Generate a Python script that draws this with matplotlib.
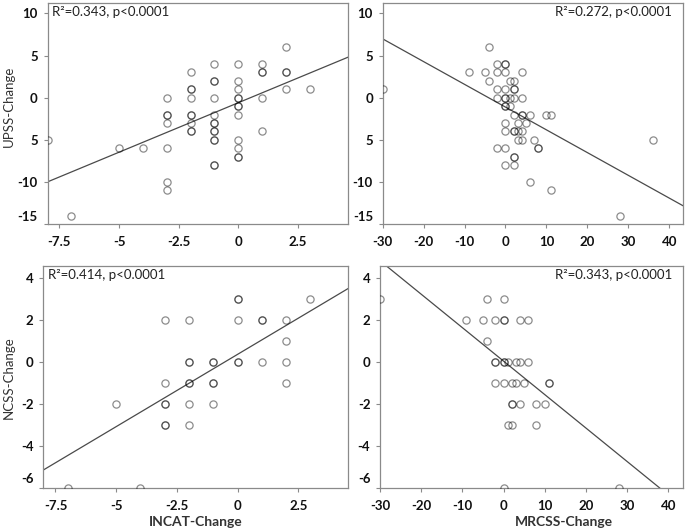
import matplotlib
matplotlib.use("Agg")
import matplotlib.pyplot as plt
import matplotlib.transforms as mtransforms
import numpy as np

plt.rcParams['font.family'] = ['Lato', 'DejaVu Sans']

# ---------------- data ----------------
# Top-left: INCAT change vs UPSS change
incat_upss_x = [-8, -7, -5, -4,
                -3, -3, -3, -3, -3, -3, -3,
                -2, -2, -2, -2, -2, -2, -2, -2, -2,
                -1, -1, -1, -1, -1, -1, -1, -1, -1, -1, -1, -1, -1,
                0, 0, 0, 0, 0, 0, 0, 0, 0, 0, 0, 0,
                1, 1, 1, 1, 1,
                2, 2, 2, 2,
                3]
incat_upss_y = [-5, -14, -6, -6,
                0, -2, -2, -3, -6, -10, -11,
                3, 1, 1, 0, -2, -2, -3, -4, -4,
                4, 2, 2, 0, -2, -3, -3, -4, -4, -5, -5, -8, -8,
                4, 2, 1, 0, 0, -1, -1, -2, -5, -6, -7, -7,
                4, 3, 3, 0, -4,
                6, 3, 3, 1,
                1]

# Top-right: MRCSS change vs UPSS change
mrcss_upss_x = [-30, -9, -5, -4, -4, -2, -2, 0, 0, 0, 1, 2, 4,
                -2, 0, 2, 2,
                -2, 0, 0, 1, 2, 4,
                0, 0, 1,
                2, 4, 4, 6, 10, 11,
                0, 3, 5,
                0, 2, 2, 3, 4,
                3, 4, 7, 36,
                -2, 0, 8, 8,
                2, 2,
                0, 2,
                6, 11, 28]
mrcss_upss_y = [1, 3, 3, 6, 2, 4, 3, 4, 4, 3, 2, 2, 3,
                1, 1, 1, 1,
                0, 0, 0, 0, 0, 0,
                -1, -1, -1,
                -2, -2, -2, -2, -2, -2,
                -3, -3, -3,
                -4, -4, -4, -4, -4,
                -5, -5, -5, -5,
                -6, -6, -6, -6,
                -7, -7,
                -8, -8,
                -10, -11, -14]

# Bottom-left: INCAT change vs NCSS change
incat_ncss_x = [-7, -4, -5,
                -3, -3, -3, -3, -3, -3,
                -2, -2, -2, -2, -2, -2, -2,
                -1, -1, -1, -1, -1,
                0, 0, 0, 0, 0,
                1, 1, 1,
                2, 2, 2, 2,
                3]
incat_ncss_y = [-6, -6, -2,
                2, -1, -2, -2, -3, -3,
                2, 0, 0, -1, -1, -2, -3,
                0, 0, -1, -1, -2,
                3, 3, 2, 0, 0,
                2, 2, 0,
                2, 1, 0, -1,
                3]

# Bottom-right: MRCSS change vs NCSS change
mrcss_ncss_x = [-30, -4, 0,
                -9, -5, -2, 0, 0, 4, 6,
                -4,
                -2, -2, 0, 0, 1, 3, 4, 6,
                -2, 0, 2, 3, 5, 11, 11,
                2, 2, 4, 8, 10,
                1, 2, 8,
                0, 28]
mrcss_ncss_y = [3, 3, 3,
                2, 2, 2, 2, 2, 2, 2,
                1,
                0, 0, 0, 0, 0, 0, 0, 0,
                -1, -1, -1, -1, -1, -1, -1,
                -2, -2, -2, -2, -2,
                -3, -3, -3,
                -6, -6]

# regression fits (slope, intercept) and R² text
fit_slopes = [1.175, -0.27, 0.687, -0.159]
fit_intercepts = [-0.6, -1.12, 0.35, 0.03]
r2_texts = ["R\u00b2=0.343, p<0.0001", "R\u00b2=0.272, p<0.0001",
            "R\u00b2=0.414, p<0.0001", "R\u00b2=0.343, p<0.0001"]

upss_ticks = [-15, -10, -5, 0, 5, 10]
upss_ticklabels = ["-15", "-10", "5", "0", "5", "10"]
ncss_ticks = [-6, -4, -2, 0, 2, 4]
ncss_ticklabels = ["-6", "-4", "-2", "0", "2", "4"]
incat_ticks = [-7.5, -5, -2.5, 0, 2.5]
incat_ticklabels = ["-7.5", "-5", "-2.5", "0", "2.5"]
mrcss_ticks = [-30, -20, -10, 0, 10, 20, 30, 40]
mrcss_ticklabels = ["-30", "-20", "-10", "0", "10", "20", "30", "40"]

# ---------------- figure ----------------
W, H = 685, 530
fig = plt.figure(figsize=(W / 100, H / 100), dpi=100)


def px_axes(x0, y0, x1, y1):
    return fig.add_axes([x0 / W, 1 - y1 / H, (x1 - x0) / W, (y1 - y0) / H])


spine_col = '#8a8a8a'

panels = [
    dict(box=(47.5, 2.5, 348, 224), x=incat_upss_x, y=incat_upss_y,
         xlim=(-8, 4.6), ylim=(-15, 11.3), xt=incat_ticks, xtl=incat_ticklabels,
         yt=upss_ticks, ytl=upss_ticklabels, text_left=True, yoff=8),
    dict(box=(382.7, 2.5, 682.7, 224), x=mrcss_upss_x, y=mrcss_upss_y,
         xlim=(-30, 43.3), ylim=(-15, 11.3), xt=mrcss_ticks, xtl=mrcss_ticklabels,
         yt=upss_ticks, ytl=upss_ticklabels, text_left=False, yoff=8),
    dict(box=(43.3, 266, 348, 488), x=incat_ncss_x, y=incat_ncss_y,
         xlim=(-8, 4.55), ylim=(-6, 4.55), xt=incat_ticks, xtl=incat_ticklabels,
         yt=ncss_ticks, ytl=ncss_ticklabels, text_left=True, yoff=10),
    dict(box=(380, 266, 682.7, 488), x=mrcss_ncss_x, y=mrcss_ncss_y,
         xlim=(-30, 43.5), ylim=(-6, 4.55), xt=mrcss_ticks, xtl=mrcss_ticklabels,
         yt=ncss_ticks, ytl=ncss_ticklabels, text_left=False, yoff=10),
]

for i, p in enumerate(panels):
    ax = px_axes(*p['box'])
    ax.set_xlim(*p['xlim'])
    ax.set_ylim(*p['ylim'])
    ax.plot(p['x'], p['y'], linestyle='none', marker='o', markersize=5.2,
            markerfacecolor='none', markeredgecolor=(0, 0, 0, 0.45),
            markeredgewidth=0.9, zorder=3)
    xs = np.array(p['xlim'])
    ax.plot(xs, fit_slopes[i] * xs + fit_intercepts[i], color='#4a4a4a',
            linewidth=0.9, zorder=2)
    for s in ax.spines.values():
        s.set_color(spine_col)
        s.set_linewidth(0.9)
    ax.set_xticks(p['xt'])
    ax.set_xticklabels(p['xtl'])
    ax.set_yticks(p['yt'])
    ax.set_yticklabels(p['ytl'])
    ax.tick_params(direction='out', length=3, width=0.8, color=spine_col,
                   labelsize=9.5, pad=6, labelcolor='#111111')
    ax.tick_params(axis='y', pad=4)
    for lab in ax.get_xticklabels() + ax.get_yticklabels():
        lab.set_fontweight('bold')
    # bottom-most y label sits slightly higher in the reference
    ylabs = ax.get_yticklabels()
    off = mtransforms.ScaledTranslation(0, p['yoff'] / 100, fig.dpi_scale_trans)
    ylabs[0].set_transform(ylabs[0].get_transform() + off)
    if p['text_left']:
        ax.text(0.015, 0.985, r2_texts[i], transform=ax.transAxes, ha='left',
                va='top', fontsize=9.5, color='#222222')
    else:
        ax.text(0.965, 0.985, r2_texts[i], transform=ax.transAxes, ha='right',
                va='top', fontsize=9.5, color='#222222')

fig.text(9 / W, 1 - 106 / H, "UPSS-Change", rotation=90, ha='center',
         va='center', fontsize=9.5, color='#333333')
fig.text(9 / W, 1 - 378 / H, "NCSS-Change", rotation=90, ha='center',
         va='center', fontsize=9.5, color='#333333')
fig.text(196 / W, 1 - 522 / H, "INCAT-Change", ha='center', va='center',
         fontsize=10, fontweight='bold', color='#333333')
fig.text(564 / W, 1 - 522 / H, "MRCSS-Change", ha='center', va='center',
         fontsize=10, fontweight='bold', color='#333333')

fig.savefig("out.png", dpi=100)
